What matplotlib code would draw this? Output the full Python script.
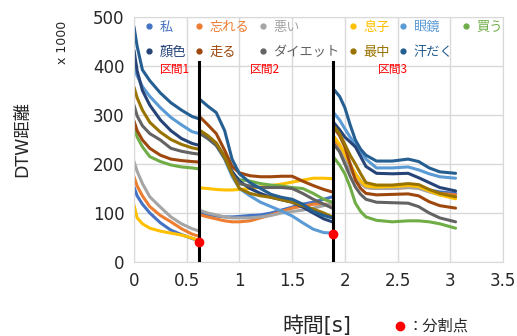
import numpy as np
import matplotlib.pyplot as plt

plt.rcParams['font.family'] = ['DejaVu Sans', 'Noto Sans CJK JP']

names = ['私', '忘れる', '悪い', '息子', '眼鏡', '買う',
         '顔色', '走る', 'ダイエット', '最中', '汗だく']
colors = ['#4472C4', '#ED7D31', '#A5A5A5', '#FFC000', '#5B9BD5', '#70AD47',
          '#264478', '#9E480E', '#636363', '#997300', '#255E91']

# time axis of each interval [s]
t1 = [0, 0.03, 0.08, 0.15, 0.25, 0.35, 0.45, 0.55, 0.62]
t2 = [0.63, 0.7, 0.78, 0.86, 0.93, 1.0, 1.1, 1.2, 1.3, 1.4, 1.5, 1.6, 1.7, 1.8, 1.88]
t3 = [1.9, 1.95, 2.0, 2.05, 2.1, 2.15, 2.2, 2.3, 2.45, 2.6, 2.7, 2.8, 2.9, 3.05]

# DTW distance (x1000), same order as names
d1 = [
    [153, 135, 118, 100, 80, 65, 56, 48, 43],
    [174, 155, 135, 113, 95, 82, 68, 57, 52],
    [205, 185, 160, 133, 112, 92, 78, 68, 63],
    [116, 90, 78, 69, 63, 59, 55, 49, 43],
    [400, 380, 358, 338, 315, 295, 280, 266, 262],
    [278, 255, 235, 215, 205, 198, 194, 192, 190],
    [432, 390, 350, 320, 290, 268, 252, 242, 238],
    [288, 268, 249, 232, 218, 210, 207, 205, 204],
    [320, 298, 278, 262, 249, 232, 226, 222, 220],
    [357, 335, 310, 285, 265, 250, 240, 233, 230],
    [480, 440, 392, 370, 345, 325, 310, 297, 292],
]
d2 = [
    [100, 97, 94, 92, 92, 93, 95, 96, 100, 106, 112, 118, 122, 128, 133],
    [96, 92, 88, 84, 82, 82, 84, 90, 96, 103, 110, 114, 118, 118, 118],
    [105, 100, 96, 92, 90, 90, 90, 92, 95, 100, 103, 106, 110, 115, 120],
    [151, 150, 148, 147, 147, 148, 150, 153, 156, 159, 163, 167, 171, 171, 170],
    [262, 252, 238, 210, 175, 150, 135, 122, 113, 104, 94, 80, 67, 60, 59],
    [262, 253, 240, 212, 180, 168, 165, 160, 157, 155, 152, 150, 140, 128, 122],
    [265, 255, 240, 215, 185, 165, 150, 140, 132, 127, 122, 112, 100, 88, 82],
    [295, 280, 262, 228, 195, 182, 176, 174, 174, 175, 175, 165, 156, 148, 143],
    [262, 252, 238, 212, 180, 160, 155, 152, 152, 152, 150, 140, 128, 118, 110],
    [268, 258, 243, 215, 180, 150, 140, 135, 132, 127, 122, 115, 108, 100, 92],
    [331, 318, 305, 268, 210, 180, 162, 150, 138, 132, 128, 118, 103, 95, 90],
]
d3 = [
    [250, 236, 216, 198, 180, 165, 155, 152, 153, 155, 153, 147, 143, 140],
    [246, 232, 212, 195, 178, 162, 152, 150, 150, 152, 152, 146, 140, 137],
    [240, 228, 208, 190, 172, 160, 152, 150, 150, 152, 150, 143, 137, 132],
    [255, 240, 220, 200, 180, 165, 155, 153, 154, 156, 154, 145, 137, 129],
    [303, 290, 272, 255, 240, 225, 210, 192, 192, 194, 188, 180, 174, 171],
    [212, 198, 180, 153, 120, 103, 92, 85, 82, 84, 84, 82, 78, 69],
    [283, 270, 255, 245, 235, 215, 195, 181, 180, 181, 172, 162, 152, 145],
    [273, 258, 235, 200, 167, 150, 140, 137, 138, 139, 135, 123, 115, 110],
    [239, 225, 200, 175, 153, 138, 128, 122, 121, 120, 113, 100, 90, 82],
    [276, 262, 240, 218, 200, 180, 162, 157, 157, 160, 158, 148, 140, 133],
    [351, 338, 315, 280, 249, 230, 218, 206, 206, 210, 205, 192, 184, 181],
]

# split points
split_t = [0.62, 1.89]
split_d = [40, 57]
section_labels = ['区間1', '区間2', '区間3']
section_x = [0.39, 1.24, 2.46]

fig = plt.figure(figsize=(5.17, 3.36), dpi=100)
ax = fig.add_axes([134 / 517, 74 / 336, 369 / 517, 245 / 336])

nan = [np.nan]
t_all = np.array(t1 + nan + t2 + nan + t3)
handles = []
for name, c, a, b, e in zip(names, colors, d1, d2, d3):
    y = np.array(a + nan + b + nan + e, dtype=float)
    ax.plot(t_all, y, color=c, lw=2.2, solid_capstyle='round', zorder=2)
    h, = ax.plot([], [], ls='none', marker='o', ms=3.5, color=c, label=name)
    handles.append(h)

for t in split_t:
    ax.plot([t, t], [0, 408], color='black', lw=2.2, zorder=3)
ax.plot(split_t, split_d, ls='none', marker='o', ms=6, color='red', zorder=4)

for lbl, x in zip(section_labels, section_x):
    ax.text(x, 392, lbl, color='red', fontsize=8.5, ha='center', va='center',
            family=['Noto Sans CJK JP', 'DejaVu Sans'])

ax.set_xlim(0, 3.5)
ax.set_ylim(0, 500)
ax.set_xticks(np.arange(0, 3.51, 0.5))
ax.set_yticks(np.arange(0, 501, 100))
ax.set_xticklabels(['%g' % v for v in np.arange(0, 3.51, 0.5)])
ax.grid(True, color='#D9D9D9', lw=1)
ax.set_axisbelow(True)
ax.tick_params(length=0, labelsize=12, colors='#262626', pad=7)
for s in ax.spines.values():
    s.set_color('#D9D9D9')

# legend laid out row-wise like the series order
order = [0, 6, 1, 7, 2, 8, 3, 9, 4, 10, 5]
leg = ax.legend([handles[i] for i in order], [names[i] for i in order],
                ncol=6, loc='upper left', bbox_to_anchor=(0.015, 1.0),
                frameon=False, handlelength=0.8, handletextpad=0.4,
                columnspacing=0.6, labelspacing=0.9, borderpad=0.3, borderaxespad=0,
                prop={'family': ['Noto Sans CJK JP'], 'size': 9.5})
for txt, i in zip(leg.get_texts(), order):
    txt.set_color(colors[i])

fig.text(22 / 517, 0.585, 'DTW距離', rotation=90, ha='center', va='center',
         fontsize=12.5, color='#262626')
fig.text(62 / 517, 1 - 42 / 336, 'x 1000', rotation=90, ha='center', va='center',
         fontsize=9, color='#262626')
fig.text(317 / 517, 10 / 336, '時間[s]', ha='center', va='center',
         fontsize=15, color='#262626')
fig.lines.append(plt.Line2D([400 / 517], [10 / 336], transform=fig.transFigure,
                            ls='none', marker='o', ms=6, color='red'))
fig.text(408 / 517, 10 / 336, '：分割点', ha='left', va='center',
         fontsize=11, color='#262626', family=['Noto Sans CJK JP'])

fig.savefig('out.png', dpi=100)
